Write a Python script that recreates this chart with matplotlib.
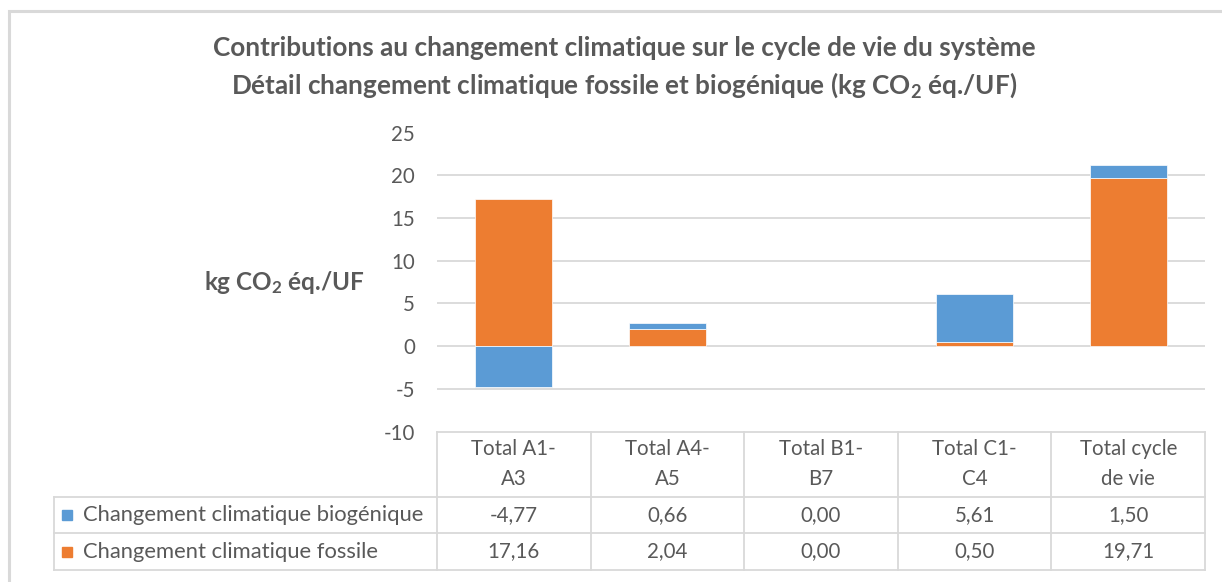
import numpy as np
import matplotlib.pyplot as plt
import matplotlib.transforms as mtransforms
from matplotlib.patches import Rectangle

plt.rcParams['font.family'] = ['Lato', 'DejaVu Sans']
plt.rcParams['mathtext.fontset'] = 'custom'
plt.rcParams['mathtext.rm'] = 'Lato'
plt.rcParams['mathtext.bf'] = 'Lato:bold'
plt.rcParams['mathtext.default'] = 'regular'

# données
etapes = ['Total A1-\nA3', 'Total A4-\nA5', 'Total B1-\nB7', 'Total C1-\nC4', 'Total cycle\nde vie']
biogenique = [-4.77, 0.66, 0.00, 5.61, 1.50]
fossile = [17.16, 2.04, 0.00, 0.50, 19.71]
series = ['Changement climatique biogénique', 'Changement climatique fossile']
yticks = [-10, -5, 0, 5, 10, 15, 20, 25]

bleu = '#5B9BD5'
orange = '#ED7D31'
gris_txt = '#595959'
gris_ligne = '#D9D9D9'
fs = 14.8

fig = plt.figure(figsize=(12.22, 5.82), dpi=100)
ax = fig.add_axes([437 / 1222, 1 - 431.5 / 582, (1205 - 437) / 1222, 299 / 582])

x = np.arange(len(etapes))
bio = np.array(biogenique)
fos = np.array(fossile)
bas_bio = np.where(bio >= 0, np.maximum(fos, 0), 0)

# pas de contour blanc sur les barres nulles
ax.bar(x, fos, width=0.5, color=orange, edgecolor='white',
       linewidth=[0.5 if v != 0 else 0 for v in fos], zorder=3)
ax.bar(x, bio, width=0.5, bottom=bas_bio, color=bleu, edgecolor='white',
       linewidth=[0.5 if v != 0 else 0 for v in bio], zorder=3)

ax.set_xlim(-0.5, len(etapes) - 0.5)
ax.set_ylim(-10, 25)
ax.set_yticks(yticks)
ax.set_yticklabels([str(v) for v in yticks], fontsize=fs, color=gris_txt)
ax.tick_params(axis='y', length=0, pad=16)
ax.set_xticks([])
for s in ax.spines.values():
    s.set_visible(False)
for v in yticks[1:-1]:
    ax.axhline(v, color=gris_ligne, lw=1.3, zorder=1)

ax.text(-0.094, 0.5, r'kg CO$_2$ éq./UF', transform=ax.transAxes, ha='right', va='center',
        fontsize=17.5, fontweight='bold', color=gris_txt)

fig.text(0.5105, 0.917, 'Contributions au changement climatique sur le cycle de vie du système',
         ha='center', va='center', fontsize=18.8, fontweight='bold', color=gris_txt)
fig.text(0.5105, 0.853, r'Détail changement climatique fossile et biogénique (kg CO$_2$ éq./UF)',
         ha='center', va='center', fontsize=18.8, fontweight='bold', color=gris_txt)

# tableau de données
tr = mtransforms.blended_transform_factory(ax.transData, ax.transAxes)
y_haut, y_ent, y_r1, y_r2 = 0.0, -0.219, -0.340, -0.463
x_leg = -0.5 - (437 - 54) / 153.6
bords = np.arange(len(etapes) + 1) - 0.5

ax.plot([bords[0], bords[-1]], [y_haut, y_haut], transform=tr, color=gris_ligne, lw=1.3, clip_on=False)
for yy in [y_ent, y_r1, y_r2]:
    ax.plot([x_leg, bords[-1]], [yy, yy], transform=tr, color=gris_ligne, lw=1.3, clip_on=False)
for bx in bords:
    ax.plot([bx, bx], [y_haut, y_r2], transform=tr, color=gris_ligne, lw=1.3, clip_on=False)
ax.plot([x_leg, x_leg], [y_ent, y_r2], transform=tr, color=gris_ligne, lw=1.3, clip_on=False)

for i, lab in enumerate(etapes):
    ax.text(i, (y_haut + y_ent) / 2, lab, transform=tr, ha='center', va='center',
            fontsize=fs, color=gris_txt, linespacing=1.6)
    ax.text(i, (y_ent + y_r1) / 2, f'{biogenique[i]:.2f}'.replace('.', ','), transform=tr,
            ha='center', va='center', fontsize=fs, color=gris_txt)
    ax.text(i, (y_r1 + y_r2) / 2, f'{fossile[i]:.2f}'.replace('.', ','), transform=tr,
            ha='center', va='center', fontsize=fs, color=gris_txt)

for yc, nom, c in [((y_ent + y_r1) / 2, series[0], bleu), ((y_r1 + y_r2) / 2, series[1], orange)]:
    ax.plot([x_leg + 0.085], [yc], transform=tr, marker='s', ms=7.5, color=c, clip_on=False)
    ax.text(x_leg + 0.19, yc, nom, transform=tr, ha='left', va='center', fontsize=15.8, color=gris_txt)

# cadre extérieur
fig.patches.append(Rectangle((9 / 1222, -0.1), 1.2, 1 - 11 / 582 + 0.1, transform=fig.transFigure,
                             fill=False, edgecolor=gris_ligne, lw=2.2))

fig.savefig('out.png', dpi=100)
